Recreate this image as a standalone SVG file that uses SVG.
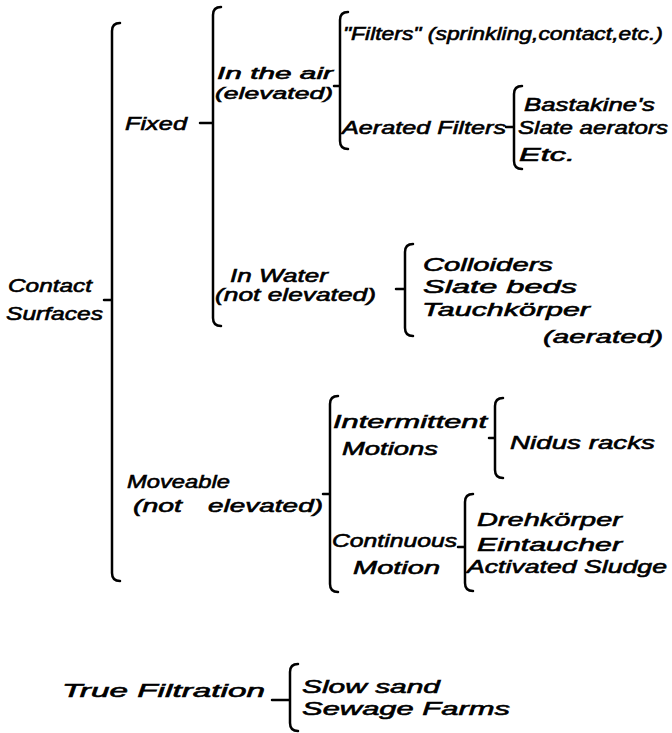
<svg xmlns="http://www.w3.org/2000/svg" width="672" height="733" viewBox="0 0 672 733">
<style>
text { font-family: "Liberation Sans", "DejaVu Sans", sans-serif; font-style: italic; font-size: 19px; fill: #000; stroke: #000; stroke-width: 0.6; }
.s { font-size: 18px; }
.m { font-size: 17px; }
.b { fill: none; stroke: #000; stroke-width: 2.5; stroke-linecap: round; stroke-linejoin: round; }
</style>
<rect width="672" height="733" fill="#fff"/>
<g id="connectors">
  <path class="b" d="M120,23 Q112,23 112,31 L112,573 Q112,581 120,581 M112,300 L104,300"/>
  <path class="b" d="M221,7 Q213,7 213,15 L213,318 Q213,326 221,326 M213,123 L200,123"/>
  <path class="b" d="M348,12 Q340,12 340,20 L340,141 Q340,149 348,149 M340,86 L334,86"/>
  <path class="b" d="M522,86 Q514,86 514,94 L514,161 Q514,169 522,169 M514,127 L506,127"/>
  <path class="b" d="M413,244 Q405,244 405,252 L405,328 Q405,336 413,336 M405,289 L396,289"/>
  <path class="b" d="M338,396 Q330,396 330,404 L330,584 Q330,592 338,592 M330,494 L323,494"/>
  <path class="b" d="M503,398 Q495,398 495,406 L495,470 Q495,478 503,478 M495,438 L489,438"/>
  <path class="b" d="M473,494 Q465,494 465,502 L465,583 Q465,591 473,591 M465,547 L458,547"/>
  <path class="b" d="M298,664 Q290,664 290,672 L290,723 Q290,731 298,731 M290,700 L272,700"/>
</g>
<g id="contact-surfaces">
  <text x="8" y="292" textLength="84" lengthAdjust="spacingAndGlyphs">Contact</text>
  <text x="6" y="320" textLength="97" lengthAdjust="spacingAndGlyphs">Surfaces</text>
</g>
<g id="fixed">
  <text x="125" y="130" textLength="62" lengthAdjust="spacingAndGlyphs">Fixed</text>
</g>
<g id="in-the-air">
  <text class="m" x="217" y="79" textLength="116" lengthAdjust="spacingAndGlyphs">In the air</text>
  <text class="m" x="215" y="99" textLength="118" lengthAdjust="spacingAndGlyphs">(elevated)</text>
</g>
<g id="filters">
  <text class="s" x="343" y="40" textLength="320" lengthAdjust="spacingAndGlyphs">"Filters" (sprinkling,contact,etc.)</text>
</g>
<g id="aerated-filters">
  <text x="342" y="134" textLength="164" lengthAdjust="spacingAndGlyphs">Aerated Filters</text>
</g>
<g id="aerators">
  <text x="524" y="111" textLength="131" lengthAdjust="spacingAndGlyphs">Bastakine's</text>
  <text x="518" y="134" textLength="150" lengthAdjust="spacingAndGlyphs">Slate aerators</text>
  <text x="519" y="161" textLength="56" lengthAdjust="spacingAndGlyphs">Etc.</text>
</g>
<g id="in-water">
  <text x="230" y="282" textLength="98" lengthAdjust="spacingAndGlyphs">In Water</text>
  <text x="215" y="301" textLength="161" lengthAdjust="spacingAndGlyphs">(not elevated)</text>
</g>
<g id="water-types">
  <text x="423" y="271" textLength="130" lengthAdjust="spacingAndGlyphs">Colloiders</text>
  <text x="423" y="293" textLength="154" lengthAdjust="spacingAndGlyphs">Slate beds</text>
  <text x="422" y="316" textLength="168" lengthAdjust="spacingAndGlyphs">Tauchkörper</text>
  <text x="543" y="343" textLength="120" lengthAdjust="spacingAndGlyphs">(aerated)</text>
</g>
<g id="moveable">
  <text x="127" y="488" textLength="103" lengthAdjust="spacingAndGlyphs">Moveable</text>
  <text x="133" y="512" textLength="49" lengthAdjust="spacingAndGlyphs">(not</text>
  <text x="208" y="512" textLength="115" lengthAdjust="spacingAndGlyphs">elevated)</text>
</g>
<g id="intermittent">
  <text x="333" y="428" textLength="154" lengthAdjust="spacingAndGlyphs">Intermittent</text>
  <text x="342" y="455" textLength="96" lengthAdjust="spacingAndGlyphs">Motions</text>
</g>
<g id="nidus">
  <text x="510" y="449" textLength="145" lengthAdjust="spacingAndGlyphs">Nidus racks</text>
</g>
<g id="continuous">
  <text x="332" y="547" textLength="125" lengthAdjust="spacingAndGlyphs">Continuous</text>
  <text x="353" y="574" textLength="87" lengthAdjust="spacingAndGlyphs">Motion</text>
</g>
<g id="continuous-types">
  <text x="477" y="526" textLength="145" lengthAdjust="spacingAndGlyphs">Drehkörper</text>
  <text x="477" y="551" textLength="145" lengthAdjust="spacingAndGlyphs">Eintaucher</text>
  <text x="467" y="573" textLength="200" lengthAdjust="spacingAndGlyphs">Activated Sludge</text>
</g>
<g id="true-filtration">
  <text x="62" y="697" textLength="203" lengthAdjust="spacingAndGlyphs">True Filtration</text>
</g>
<g id="filtration-types">
  <text x="302" y="693" textLength="138" lengthAdjust="spacingAndGlyphs">Slow sand</text>
  <text x="302" y="715" textLength="208" lengthAdjust="spacingAndGlyphs">Sewage Farms</text>
</g>
</svg>
